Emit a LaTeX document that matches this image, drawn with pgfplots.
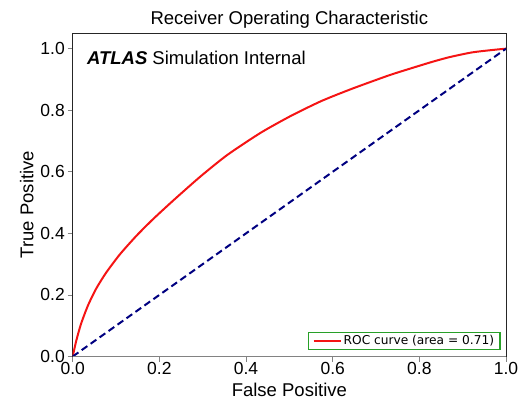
\documentclass[border=0pt]{standalone}
\usepackage{fontspec}
\setmainfont{Liberation Sans}
\newfontfamily\dejavu{DejaVu Sans}
\usepackage{pgfplots}
\pgfplotsset{compat=1.18}
\definecolor{rocred}{RGB}{245,20,20}
\definecolor{legGreen}{RGB}{40,160,40}
\definecolor{spinegray}{RGB}{130,130,130}
\definecolor{navyblue}{RGB}{0,0,128}
\begin{document}
\begin{tikzpicture}
\begin{axis}[
  scale only axis,
  width=433.3pt, height=323.2pt,
  xmin=0, xmax=1, ymin=0, ymax=1.05,
  clip mode=individual,
  xtick={0,0.2,0.4,0.6,0.8,1.0},
  ytick={0,0.2,0.4,0.6,0.8,1.0},
  /pgf/number format/assume math mode=true,
  /pgf/number format/fixed,
  /pgf/number format/fixed zerofill,
  /pgf/number format/precision=1,
  tick label style={font=\fontsize{17.5}{20}\selectfont},
  xticklabel style={anchor=base, yshift=-12.5pt, inner sep=0pt},
  yticklabel style={anchor=east, inner sep=0pt, xshift=-2.7pt},
  tick align=outside, major tick length=5pt,
  tick style={spinegray, line width=0.8pt},
  xtick pos=bottom, ytick pos=left,
  axis line style={black!85, line width=0.8pt},
  legend style={at={(rel axis cs:0.988,0.02)}, anchor=south east,
    draw=legGreen, line width=1.4pt, font=\dejavu\fontsize{12.2}{14}\selectfont,
    inner xsep=4pt, inner ysep=1pt},
  legend cell align=left,
  legend image code/.code={\draw[#1, line width=2pt] (0pt,0pt) -- (27pt,0pt);},
]
\addplot[rocred, line width=2pt, smooth, tension=0.4] coordinates {
(0,0) (0.008,0.05) (0.019,0.105) (0.035,0.165) (0.054,0.22) (0.077,0.272)
(0.109,0.332) (0.147,0.392) (0.186,0.447) (0.233,0.508) (0.295,0.585)
(0.357,0.655) (0.434,0.727) (0.504,0.782) (0.574,0.83) (0.643,0.869)
(0.713,0.905) (0.744,0.92) (0.822,0.954) (0.868,0.972) (0.922,0.988)
(0.977,0.997) (1,1)
};
\addlegendentry{ROC curve (area = 0.71)}
\addplot[navyblue, line width=2pt, dash pattern=on 7pt off 4pt, forget plot] coordinates {(0,0) (1,1)};
\draw[spinegray, line width=0.8pt] (rel axis cs:0,0) -- (rel axis cs:1,0);
\node[anchor=west, font=\fontsize{18.5}{21}\selectfont] at (rel axis cs:0.025,0.923) {\textbf{\textit{ATLAS}} Simulation Internal};
\node[anchor=base, font=\fontsize{18.5}{21}\selectfont] at ([yshift=8.3pt]rel axis cs:0.5,1) {Receiver Operating Characteristic};
\node[anchor=base, font=\fontsize{18.5}{21}\selectfont] at ([yshift=-39.5pt]rel axis cs:0.5,0) {False Positive};
\node[anchor=base, rotate=90, font=\fontsize{18.5}{21}\selectfont] at ([xshift=-39.4pt]rel axis cs:0,0.47) {True Positive};
\end{axis}
\pgfresetboundingbox
\path[use as bounding box] (-72.7pt,-44.5pt) rectangle (453.3pt,356.5pt);
\end{tikzpicture}
\end{document}
